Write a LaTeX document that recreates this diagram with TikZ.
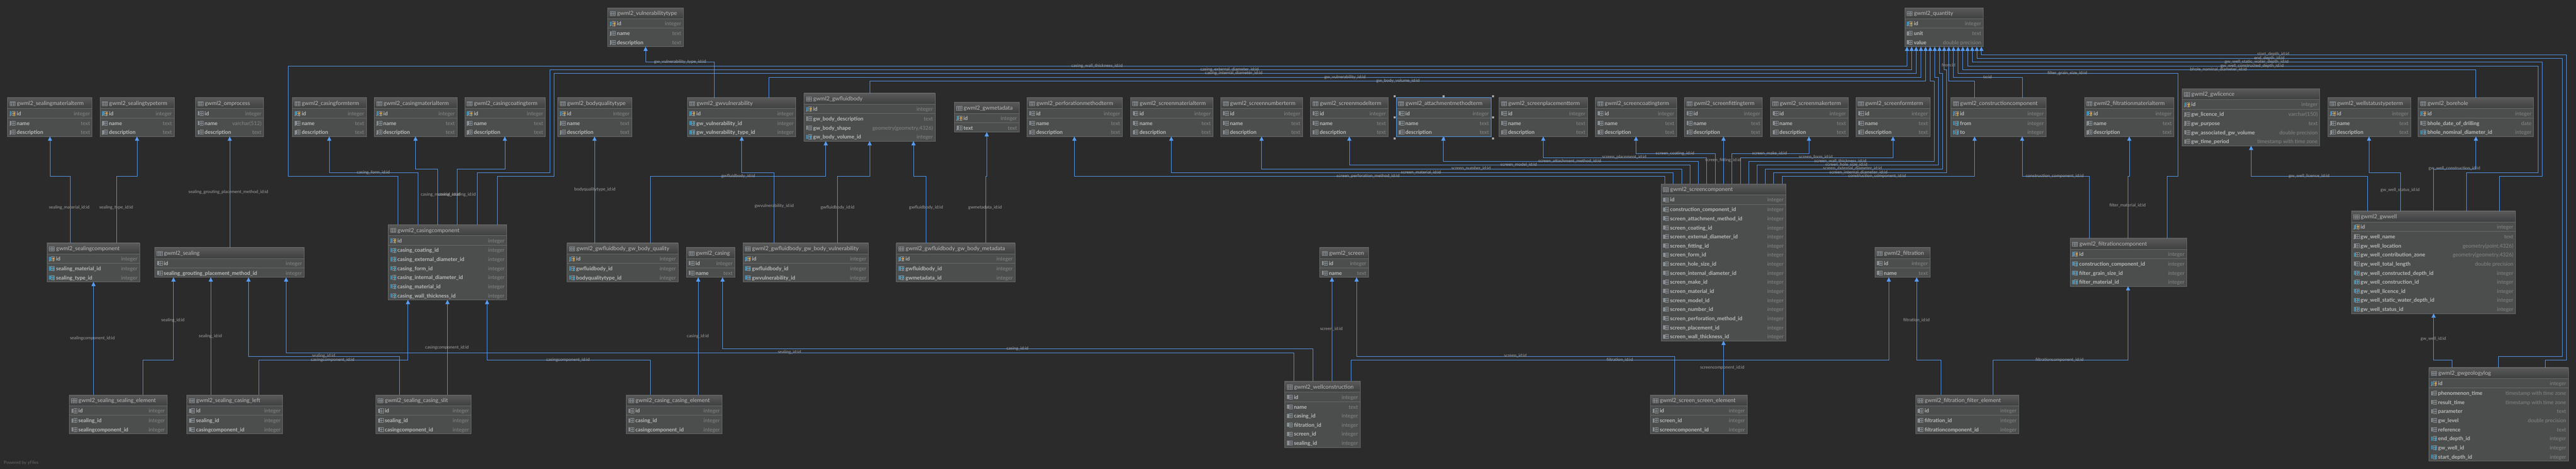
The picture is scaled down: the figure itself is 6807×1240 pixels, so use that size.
\documentclass[tikz,border=0pt]{standalone}
\usepackage{fontspec}
\setmainfont{Lato}
\usetikzlibrary{arrows.meta}
\catcode`\_=12

\definecolor{canvas}{HTML}{2B2B2B}
\definecolor{tablebody}{HTML}{4C4E4E}
\definecolor{tableedge}{HTML}{6B6D6D}
\definecolor{headtop}{HTML}{5A5A5A}
\definecolor{headlow}{HTML}{3E3F40}
\definecolor{fkblue}{HTML}{589DF6}
\definecolor{textfield}{HTML}{BBBBBB}
\definecolor{texttype}{HTML}{858585}
\definecolor{textlink}{HTML}{A2A2A2}
\definecolor{iconbar}{HTML}{3F8FB5}
\definecolor{icongray}{HTML}{8A9095}
\definecolor{keyfk}{HTML}{2EA6D6}
\definecolor{keypk}{HTML}{E2A233}

\tikzset{
	tablebox/.style={draw=tableedge,fill=tablebody,line width=1pt,inner sep=0pt,outer sep=0pt,anchor=north west},
	tablehead/.style={draw=tableedge,line width=1pt,top color=headtop,bottom color=headlow,inner sep=0pt,outer sep=0pt,anchor=north west},
	tablerule/.style={draw=tableedge,line width=1pt},
	tabletitle/.style={text=textfield,font=\fontsize{14.7}{15}\selectfont,anchor=base west,inner sep=0pt},
	fieldname/.style={text=textfield,font=\fontsize{14}{14}\selectfont\bfseries,anchor=base west,inner sep=0pt},
	fieldtype/.style={text=texttype,font=\fontsize{14}{14}\selectfont,anchor=base east,inner sep=0pt},
	fkline/.style={draw=fkblue,line width=1pt,-{Triangle[width=11pt,length=11pt,fill=fkblue]}},
	fklabel/.style={text=textlink,font=\fontsize{11.5}{12}\selectfont,inner sep=0pt,text height=9pt,text depth=3pt},
	grip/.style={fill=gray!70!white,inner sep=0pt,minimum size=5pt},
	poweredby/.style={text=gray!80!black,font=\fontsize{11.5}{12}\selectfont,anchor=west,inner sep=0pt}
}

% row icons
\newcommand{\icongrid}[1]{
	\fill[#1] (6,\cy-6) rectangle (10.5,\cy+5);
	\draw[icongray,line width=0.8pt] (11.5,\cy-6) rectangle (20,\cy+5);
	\draw[icongray,line width=0.8pt] (11.5,\cy-0.5) -- (20,\cy-0.5) (15.7,\cy-6) -- (15.7,\cy+5);
}
\newcommand{\rowiconc}{\icongrid{icongray}}
\newcommand{\rowiconb}{\icongrid{iconbar}}
\newcommand{\rowiconn}{\icongrid{icongray}\fill[icongray] (7,\cy+5) circle (2);}
\newcommand{\rowiconf}{
	\icongrid{iconbar}
	\draw[keyfk,line width=1.2pt] (17.5,\cy-1) circle (2) (17.5,\cy+1) -- (17.5,\cy+7);
}
\newcommand{\rowiconp}{
	\icongrid{iconbar}\fill[icongray] (7,\cy+5) circle (2);
	\draw[keypk,line width=1.4pt] (17.5,\cy-1) circle (2) (17.5,\cy+1) -- (17.5,\cy+7);
}

% name, x, y, width, height, title, rows
\newcommand{\dbtable}[7]{
	\node[tablebox,minimum width=#4,minimum height=#5] (#1) at (#2,#3) {};
	\begin{scope}[shift={(#1.north west)}]
		\node[tablehead,minimum width=#4,minimum height=29] (#1-head) at (0,0) {};
		\draw[icongray,line width=0.9pt] (6,10) rectangle (20,21) (6,13.7) -- (20,13.7) (6,17.3) -- (20,17.3) (10.7,10) -- (10.7,21) (15.3,10) -- (15.3,21);
		\node[tabletitle] (#1-title) at (24.4,20) {#6};
		\draw[tablerule] (0,54) -- (#4,54);
		\edef\rowlist{#7}
		\foreach \kind/\field/\ftype [count=\i from 0] in \rowlist {
			\pgfmathsetmacro{\cy}{ifthenelse(\i==0,42.3,44+24*\i)}
			\csname rowicon\kind\endcsname
			\node[fieldname] (#1-\i) at (24,\cy+5) {\field};
			\node[fieldtype] (#1-t\i) at (#4-5.5,\cy+5) {\ftype};
		}
	\end{scope}
}

% from table to table, straight / with one step / round the outside
\newcommand{\fkdirect}[3]{\draw[fkline] (#1.north -| #2,0) -- (#3.south -| #2,0);}
\newcommand{\fkstep}[5]{\draw[fkline] (#1.north -| #2,0) -- (#2,#3) -- (#5,#3) -- (#4.south -| #5,0);}
\newcommand{\fkwrap}[7]{\draw[fkline] (#1.north -| #2,0) -- (#2,#3) -- (#4,#3) -- (#4,#5) -- (#7,#5) -- (#6.south -| #7,0);}

\def\pnn{p/id/integer,n/name/text,n/description/text}
\def\ccc{c/id/integer,c/name/text,c/description/text}

\begin{document}
\begin{tikzpicture}[x=1pt,y=-1pt]
	\fill[canvas] (0,0) rectangle (6807,1240);
	\useasboundingbox (0,0) rectangle (6807,1240);

	% top row
	\dbtable{sealingmaterialterm}{20}{258}{223.5}{103}{gwml2_sealingmaterialterm}{\pnn}
	\dbtable{sealingtypeterm}{264}{258}{196}{103}{gwml2_sealingtypeterm}{\pnn}
	\dbtable{omprocess}{516.6}{258}{180}{103}{gwml2_omprocess}{c/id/integer,c/name/varchar(512),c/description/text}
	\dbtable{casingformterm}{773}{258}{195}{103}{gwml2_casingformterm}{\pnn}
	\dbtable{casingmaterialterm}{989}{258}{218.6}{103}{gwml2_casingmaterialterm}{\pnn}
	\dbtable{casingcoatingterm}{1228}{258}{213}{103}{gwml2_casingcoatingterm}{\pnn}
	\dbtable{bodyqualitytype}{1474}{258}{195}{103}{gwml2_bodyqualitytype}{\pnn}
	\dbtable{gwvulnerability}{1816}{258}{287}{103}{gwml2_gwvulnerability}{p/id/integer,f/gw_vulnerability_id/integer,f/gw_vulnerability_type_id/integer}
	\dbtable{gwfluidbody}{2124.5}{246.3}{346.5}{127}{gwml2_gwfluidbody}{p/id/integer,c/gw_body_description/text,c/gw_body_shape/{geometry(geometry,4326)},f/gw_body_volume_id/integer}
	\dbtable{gwmetadata}{2521.7}{270.5}{171.3}{79}{gwml2_gwmetadata}{p/id/integer,n/text/text}
	\dbtable{perforationmethodterm}{2714}{258}{251.5}{103}{gwml2_perforationmethodterm}{\ccc}
	\dbtable{screenmaterialterm}{2987}{258}{218}{103}{gwml2_screenmaterialterm}{\ccc}
	\dbtable{screennumberterm}{3226}{258}{216}{103}{gwml2_screennumberterm}{\ccc}
	\dbtable{screenmodelterm}{3463}{258}{205}{103}{gwml2_screenmodelterm}{\ccc}
	\dbtable{attachmentmethodterm}{3689.5}{258}{250.5}{103}{gwml2_attachmentmethodterm}{\ccc}
	\dbtable{screenplacementterm}{3961}{258}{234}{103}{gwml2_screenplacementterm}{\ccc}
	\dbtable{screencoatingterm}{4216}{258}{214}{103}{gwml2_screencoatingterm}{\ccc}
	\dbtable{screenfittingterm}{4451}{258}{206}{103}{gwml2_screenfittingterm}{\ccc}
	\dbtable{screenmakerterm}{4678}{258}{205.5}{103}{gwml2_screenmakerterm}{\ccc}
	\dbtable{screenformterm}{4904}{258}{196}{103}{gwml2_screenformterm}{\ccc}
	\dbtable{constructioncomponent}{5155}{258}{251.5}{103}{gwml2_constructioncomponent}{p/id/integer,f/from/integer,f/to/integer}
	\dbtable{filtrationmaterialterm}{5508}{258}{236.5}{103}{gwml2_filtrationmaterialterm}{\pnn}
	\dbtable{gwlicence}{5766}{234.5}{364}{151}{gwml2_gwlicence}{p/id/integer,n/gw_licence_id/varchar(150),n/gw_purpose/text,c/gw_associated_gw_volume/double precision,c/gw_time_period/timestamp with time zone}
	\dbtable{wellstatustypeterm}{6151}{258}{219}{103}{gwml2_wellstatustypeterm}{\pnn}
	\dbtable{borehole}{6390}{258}{305}{103}{gwml2_borehole}{p/id/integer,c/bhole_date_of_drilling/date,f/bhole_nominal_diameter_id/integer}
	\dbtable{vulnerabilitytype}{1606}{20.5}{200}{103}{gwml2_vulnerabilitytype}{\pnn}
	\dbtable{quantity}{5033}{20.5}{208}{103}{gwml2_quantity}{p/id/integer,c/unit/text,c/value/double precision}

	% middle
	\dbtable{sealingcomponent}{124}{642.5}{245}{103}{gwml2_sealingcomponent}{p/id/integer,f/sealing_material_id/integer,f/sealing_type_id/integer}
	\dbtable{sealing}{408.7}{654.4}{395.3}{79}{gwml2_sealing}{c/id/integer,c/sealing_grouting_placement_method_id/integer}
	\dbtable{casingcomponent}{1026}{594}{313}{199}{gwml2_casingcomponent}{p/id/integer,f/casing_coating_id/integer,f/casing_external_diameter_id/integer,f/casing_form_id/integer,f/casing_internal_diameter_id/integer,f/casing_material_id/integer,f/casing_wall_thickness_id/integer}
	\dbtable{bodyquality}{1498.5}{642.5}{293.5}{103}{gwml2_gwfluidbody_gw_body_quality}{p/id/integer,f/gwfluidbody_id/integer,f/bodyqualitytype_id/integer}
	\dbtable{casing}{1814}{654.4}{127.6}{79}{gwml2_casing}{c/id/integer,c/name/text}
	\dbtable{bodyvulnerability}{1963}{642.5}{332}{103}{gwml2_gwfluidbody_gw_body_vulnerability}{p/id/integer,f/gwfluidbody_id/integer,f/gwvulnerability_id/integer}
	\dbtable{bodymetadata}{2368.6}{642.5}{313.4}{103}{gwml2_gwfluidbody_gw_body_metadata}{p/id/integer,f/gwfluidbody_id/integer,f/gwmetadata_id/integer}
	\dbtable{screen}{3487.5}{654.4}{128.5}{79}{gwml2_screen}{c/id/integer,c/name/text}
	\dbtable{screencomponent}{4389}{486.3}{330}{415}{gwml2_screencomponent}{c/id/integer,c/construction_component_id/integer,c/screen_attachment_method_id/integer,c/screen_coating_id/integer,c/screen_external_diameter_id/integer,c/screen_fitting_id/integer,c/screen_form_id/integer,c/screen_hole_size_id/integer,c/screen_internal_diameter_id/integer,c/screen_make_id/integer,c/screen_material_id/integer,c/screen_model_id/integer,c/screen_number_id/integer,c/screen_perforation_method_id/integer,c/screen_placement_id/integer,c/screen_wall_thickness_id/integer}
	\dbtable{filtration}{4954}{654.4}{146}{79}{gwml2_filtration}{c/id/integer,c/name/text}
	\dbtable{filtrationcomponent}{5470}{630}{308}{127}{gwml2_filtrationcomponent}{p/id/integer,f/construction_component_id/integer,f/filter_grain_size_id/integer,f/filter_material_id/integer}
	\dbtable{gwwell}{6213.6}{558}{433.4}{271}{gwml2_gwwell}{p/id/integer,n/gw_well_name/text,n/gw_well_location/{geometry(point,4326)},b/gw_well_contribution_zone/{geometry(geometry,4326)},c/gw_well_total_length/double precision,f/gw_well_constructed_depth_id/integer,f/gw_well_construction_id/integer,f/gw_well_licence_id/integer,f/gw_well_static_water_depth_id/integer,f/gw_well_status_id/integer}

	% bottom row
	\dbtable{sealingelement}{183}{1044.3}{258.6}{103}{gwml2_sealing_sealing_element}{c/id/integer,c/sealing_id/integer,c/sealingcomponent_id/integer}
	\dbtable{casingleft}{494}{1044.3}{253}{103}{gwml2_sealing_casing_left}{c/id/integer,c/sealing_id/integer,c/casingcomponent_id/integer}
	\dbtable{casingslit}{992.6}{1044.3}{252.4}{103}{gwml2_sealing_casing_slit}{c/id/integer,c/sealing_id/integer,c/casingcomponent_id/integer}
	\dbtable{casingelement}{1655}{1044.3}{253}{103}{gwml2_casing_casing_element}{c/id/integer,c/casing_id/integer,c/casingcomponent_id/integer}
	\dbtable{wellconstruction}{3395}{1008}{199}{175}{gwml2_wellconstruction}{c/id/integer,c/name/text,c/casing_id/integer,c/filtration_id/integer,c/screen_id/integer,c/sealing_id/integer}
	\dbtable{screenelement}{4361.5}{1044.3}{255.5}{103}{gwml2_screen_screen_element}{c/id/integer,c/screen_id/integer,c/screencomponent_id/integer}
	\dbtable{filterelement}{5061.5}{1044.3}{273}{103}{gwml2_filtration_filter_element}{c/id/integer,c/filtration_id/integer,c/filtrationcomponent_id/integer}
	\dbtable{gwgeologylog}{6418.5}{972}{368}{247}{gwml2_gwgeologylog}{p/id/integer,c/phenomenon_time/timestamp with time zone,c/result_time/timestamp with time zone,c/parameter/text,c/gw_level/double precision,c/reference/text,f/end_depth_id/integer,f/gw_well_id/integer,f/start_depth_id/integer}

	% selected table
	\draw[fkblue,line width=1pt] (attachmentmethodterm.north west) rectangle (attachmentmethodterm.south east);
	\foreach \hx/\hy [count=\i] in {3685/254.5,3815/254.5,3945/254.5,3685/310.4,3945/310.4,3685/366.5,3815/366.5,3945/366.5}
		\node[grip] (grip\i) at (\hx,\hy) {};

	% links on the left
	\fkstep{sealingcomponent}{185}{466.6}{sealingmaterialterm}{132}
	\fkstep{sealingcomponent}{308.4}{466.6}{sealingtypeterm}{362}
	\fkdirect{sealing}{607}{omprocess}
	\fkdirect{sealingelement}{247}{sealingcomponent}
	\fkstep{sealingelement}{377.3}{952.5}{sealing}{458.4}
	\fkdirect{casingleft}{557}{sealing}
	\fkstep{casingleft}{684}{952.5}{casingcomponent}{1078}
	\fkstep{casingslit}{1056}{942.3}{sealing}{656.6}
	\fkdirect{casingslit}{1182.4}{casingcomponent}
	\fkstep{casingelement}{1718}{952.5}{casingcomponent}{1287}
	\fkdirect{casingelement}{1845}{casing}
	\fkstep{casingcomponent}{1104.3}{456.3}{casingformterm}{870}
	\fkstep{casingcomponent}{1156.4}{446.4}{casingmaterialterm}{1098}
	\fkstep{casingcomponent}{1207.6}{446.4}{casingcoatingterm}{1334}
	\fkwrap{casingcomponent}{1051.5}{466.6}{762}{174.4}{quantity}{5039}
	\fkwrap{casingcomponent}{1261}{456.3}{1452.5}{184.3}{quantity}{5051.3}
	\fkwrap{casingcomponent}{1314}{466.6}{1464}{194.1}{quantity}{5063.4}

	% fluid body
	\fkdirect{bodyquality}{1571}{bodyqualitytype}
	\fkstep{bodyquality}{1719}{466.6}{gwfluidbody}{2182}
	\fkstep{bodyvulnerability}{2045}{456.3}{gwvulnerability}{1960}
	\fkstep{bodyvulnerability}{2212.5}{466.6}{gwfluidbody}{2298}
	\fkstep{bodymetadata}{2447.4}{466.6}{gwfluidbody}{2413.8}
	\fkstep{bodymetadata}{2604.3}{466.6}{gwmetadata}{2607.4}
	\fkstep{gwvulnerability}{1888}{164.5}{vulnerabilitytype}{1706}
	\draw[fkline] (gwvulnerability.north -| 2032,0) -- (2032,204.4) -- (5076,204.4) -- (quantity.south -| 5076,0);
	\draw[fkline] (gwfluidbody.north -| 2298,0) -- (2298,214.3) -- (5088.3,214.3) -- (quantity.south -| 5088.3,0);

	% well construction
	\fkstep{wellconstruction}{3419.4}{932.4}{sealing}{756}
	\fkstep{wellconstruction}{3469}{922.5}{casing}{1909.4}
	\fkdirect{wellconstruction}{3519.6}{screen}
	\fkstep{wellconstruction}{3570}{952.5}{filtration}{4991}
	\fkstep{screenelement}{4425}{942.3}{screen}{3584.7}
	\fkdirect{screenelement}{4554.3}{screencomponent}
	\fkstep{filterelement}{5129}{952.5}{filtration}{5064.7}
	\fkstep{filterelement}{5266}{952.5}{filtrationcomponent}{5623.3}

	% screen component
	\fkstep{screencomponent}{4399.7}{466.6}{perforationmethodterm}{2839}
	\fkstep{screencomponent}{4421}{456.3}{screenmaterialterm}{3095}
	\fkstep{screencomponent}{4443.4}{446.4}{screennumberterm}{3333.6}
	\fkstep{screencomponent}{4465.6}{436.5}{screenmodelterm}{3565.5}
	\fkstep{screencomponent}{4487.7}{426.3}{attachmentmethodterm}{3814}
	\fkstep{screencomponent}{4510}{416.4}{screenplacementterm}{4078}
	\fkstep{screencomponent}{4532}{406.5}{screencoatingterm}{4323}
	\fkdirect{screencomponent}{4554.3}{screenfittingterm}
	\fkstep{screencomponent}{4576.5}{406.5}{screenmakerterm}{4780}
	\fkstep{screencomponent}{4598.7}{416.4}{screenformterm}{5002}
	\fkwrap{screencomponent}{4621}{426.3}{5111}{214.3}{quantity}{5100.4}
	\fkwrap{screencomponent}{4643}{436.5}{5122}{204.4}{quantity}{5112.5}
	\fkwrap{screencomponent}{4664.5}{446.4}{5133.5}{194.1}{quantity}{5125}
	\fkwrap{screencomponent}{4686.7}{456.3}{5144.4}{184.3}{quantity}{5137.4}
	\fkstep{screencomponent}{4709}{466.6}{constructioncomponent}{5217.7}
	\draw[fkline] (constructioncomponent.north -| 5217.7,0) -- (5217.7,214.3) -- (5149.5,214.3) -- (quantity.south -| 5149.5,0);
	\draw[fkline] (constructioncomponent.north -| 5343.4,0) -- (5343.4,204.4) -- (5162,204.4) -- (quantity.south -| 5162,0);

	% filtration component
	\fkstep{filtrationcomponent}{5520.7}{466.6}{constructioncomponent}{5343.4}
	\fkstep{filtrationcomponent}{5623.3}{466.6}{filtrationmaterialterm}{5626.5}
	\fkwrap{filtrationcomponent}{5726.7}{466.6}{5755.4}{194.1}{quantity}{5174.4}

	% well and log
	\draw[fkline] (borehole.north -| 6542.4,0) -- (6542.4,184.3) -- (5186.5,184.3) -- (quantity.south -| 5186.5,0);
	\fkstep{gwwell}{6256.6}{466.6}{gwlicence}{5948.4}
	\fkstep{gwwell}{6343.3}{456.3}{wellstatustypeterm}{6260}
	\fkstep{gwwell}{6430}{446.4}{borehole}{6542.4}
	\fkwrap{gwwell}{6517.4}{456.3}{6706}{174.4}{quantity}{5199}
	\fkwrap{gwwell}{6604}{466.6}{6717}{164.5}{quantity}{5211.4}
	\fkstep{gwgeologylog}{6479.5}{952.5}{gwwell}{6430.7}
	\fkwrap{gwgeologylog}{6602}{942.3}{6770.4}{154.6}{quantity}{5223.5}
	\fkwrap{gwgeologylog}{6725.5}{952.5}{6781.4}{144.7}{quantity}{5235.6}

	% link labels
	\foreach \lx/\ly/\ltext [count=\i] in {
		183/549.6/sealing_material_id:id, 307/549.6/sealing_type_id:id,
		603.4/507.7/sealing_grouting_placement_method_id:id, 986.5/456/casing_form_id:id,
		1164/515.6/casing_material_id:id, 1207/515.6/casing_coating_id:id,
		244/894.8/sealingcomponent_id:id, 457/847.8/sealing_id:id, 556/889/sealing_id:id,
		879/952/casingcomponent_id:id, 855/941.5/sealing_id:id, 1181/919/casingcomponent_id:id,
		1500.8/952/casingcomponent_id:id, 1844/889/casing_id:id, 2086/932/sealing_id:id,
		2688.5/922/casing_id:id, 3518/870.7/screen_id:id, 4280/952/filtration_id:id,
		4004/941.5/screen_id:id, 4551/972.7/screencomponent_id:id,
		1572/501.8/bodyqualitytype_id:id, 1950.7/466/gwfluidbody_id:id, 2046/545/gwvulnerability_id:id,
		2213/549.6/gwfluidbody_id:id, 2447/549.6/gwfluidbody_id:id, 2603/549.6/gwmetadata_id:id,
		1797/164/gw_vulnerability_type_id:id, 2898.6/174/casing_wall_thickness_id:id,
		3249/184/casing_external_diameter_id:id, 3260/194/casing_internal_diameter_id:id,
		3554/204/gw_vulnerability_id:id, 3694/214/gw_body_volume_id:id,
		3615/466/screen_perforation_method_id:id, 3755/456/screen_material_id:id, 3887/446/screen_number_id:id,
		4013/436/screen_model_id:id, 4148/426/screen_attachment_method_id:id, 4292/416/screen_placement_id:id,
		4426/406/screen_coating_id:id, 4553/424/screen_fitting_id:id, 4676/406/screen_make_id:id,
		4798/416/screen_form_id:id, 4863/426/screen_wall_thickness_id:id, 4879/436/screen_hole_size_id:id,
		4895/446/screen_external_diameter_id:id, 4911/456/screen_internal_diameter_id:id,
		4960/466/construction_component_id:id, 5149/173/from:id, 5252/204/to:id,
		5462.6/194/filter_grain_size_id:id, 5862/184/bhole_nominal_diameter_id:id,
		5951/174/gw_well_constructed_depth_id:id, 5963/164/gw_well_static_water_depth_id:id,
		5996.5/154/end_depth_id:id, 6007/144/start_depth_id:id, 5622/543.7/filter_material_id:id,
		5429.5/466/construction_component_id:id, 5064/847.4/filtration_id:id, 5442/952/filtrationcomponent_id:id,
		6101.5/466/gw_well_licence_id:id, 6342/502.6/gw_well_status_id:id, 6485.6/446/gw_well_construction_id:id,
		6430/895.6/gw_well_id:id}
		\node[fklabel] (lbl\i) at (\lx,\ly) {\ltext};

	\node[poweredby] (powered) at (10,1223.8) {Powered by yFiles};
\end{tikzpicture}
\end{document}
